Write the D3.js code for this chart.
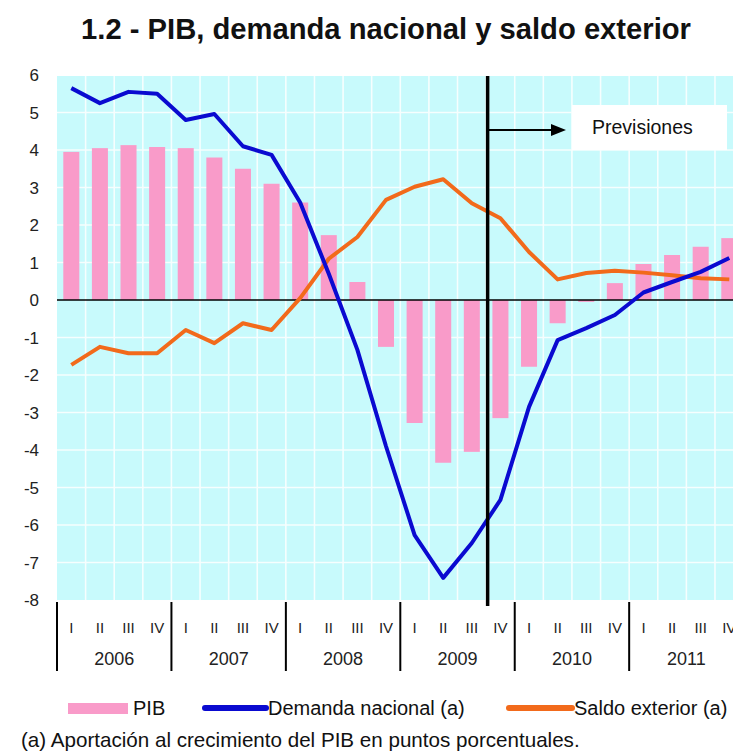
<!DOCTYPE html>
<html>
<head>
<meta charset="utf-8">
<script src="https://cdn.jsdelivr.net/npm/d3@7"></script>
<style>
  html, body { margin: 0; padding: 0; background: #fff; overflow: hidden; }
  svg { display: block; font-family: "Liberation Sans", Arial, sans-serif; }
</style>
</head>
<body>
<svg id="chart" width="733" height="756"></svg>
<script>
const years = ["2006", "2007", "2008", "2009", "2010", "2011"];
const quarterNames = ["I", "II", "III", "IV"];
const quarters = years.flatMap(y => quarterNames.map(q => y + " " + q));
const pib = [3.95, 4.05, 4.13, 4.08, 4.05, 3.8, 3.5, 3.1, 2.6, 1.73, 0.48, -1.25,
             -3.28, -4.34, -4.05, -3.15, -1.78, -0.62, -0.05, 0.45, 0.96, 1.2, 1.42, 1.65];
const demanda = [5.65, 5.25, 5.55, 5.5, 4.8, 4.96, 4.1, 3.87, 2.6, 0.7, -1.33, -3.9,
                 -6.27, -7.41, -6.48, -5.33, -2.85, -1.07, -0.75, -0.4, 0.2, 0.48, 0.75, 1.12];
const saldo = [-1.73, -1.25, -1.42, -1.42, -0.8, -1.15, -0.62, -0.8, 0.05, 1.1, 1.68, 2.67,
               3.02, 3.22, 2.58, 2.18, 1.28, 0.55, 0.72, 0.78, 0.73, 0.66, 0.58, 0.55];
const yTicks = [6, 5, 4, 3, 2, 1, 0, -1, -2, -3, -4, -5, -6, -7, -8];
const forecastStart = "2009 IV";
const title = "1.2 - PIB, demanda nacional y saldo exterior";
const forecastLabel = "Previsiones";
const legendLabels = ["PIB", "Demanda nacional (a)", "Saldo exterior (a)"];
const footnote = "(a) Aportación al crecimiento del PIB en puntos porcentuales.";

const colors = { bg: "#c8fafc", pib: "#f99bc9", demanda: "#0a0ad0", saldo: "#f26a1b" };

const svg = d3.select("#chart");
const W = 733;
const plot = { left: 57, right: 743.6, top: 76, bottom: 600 };

const x = d3.scaleBand().domain(quarters).range([plot.left, plot.right])
  .paddingInner(0.44).paddingOuter(0.22);
const step = x.step();
const cx = q => x(q) + x.bandwidth() / 2;
const qStart = q => cx(q) - step / 2;
const y = d3.scaleLinear().domain([-8, 6]).range([plot.bottom, 75]);

// title
svg.append("text").attr("x", 386).attr("y", 39).attr("text-anchor", "middle")
  .attr("font-size", 29.2).attr("font-weight", "bold").attr("fill", "#111").text(title);

// background
const clipW = Math.min(W, plot.right) - plot.left;
svg.append("rect").attr("x", plot.left).attr("y", plot.top)
  .attr("width", clipW).attr("height", plot.bottom - plot.top).attr("fill", colors.bg);

// gridlines
const grid = svg.append("g").attr("stroke", "#fff").attr("stroke-width", 1.6).attr("opacity", 0.85);
grid.selectAll("line.h").data(yTicks.filter(t => t !== 0 && t !== 6 && t !== -8)).join("line")
  .attr("x1", plot.left).attr("x2", W).attr("y1", d => y(d)).attr("y2", d => y(d));
grid.selectAll("line.v").data(quarters.slice(1)).join("line")
  .attr("x1", d => qStart(d)).attr("x2", d => qStart(d))
  .attr("y1", plot.top).attr("y2", plot.bottom);

// bars
svg.append("g").selectAll("rect").data(quarters).join("rect")
  .attr("x", d => x(d)).attr("width", x.bandwidth())
  .attr("y", (d, i) => y(Math.max(0, pib[i])))
  .attr("height", (d, i) => Math.abs(y(pib[i]) - y(0)))
  .attr("fill", colors.pib);

// zero line
svg.append("line").attr("x1", plot.left).attr("x2", W).attr("y1", y(0)).attr("y2", y(0))
  .attr("stroke", "#000").attr("stroke-width", 1.5);

// lines
const line = d3.line().x((d, i) => cx(quarters[i])).y(d => y(d));
svg.append("path").datum(saldo).attr("d", line).attr("fill", "none")
  .attr("stroke", colors.saldo).attr("stroke-width", 4).attr("stroke-linejoin", "round");
svg.append("path").datum(demanda).attr("d", line).attr("fill", "none")
  .attr("stroke", colors.demanda).attr("stroke-width", 4).attr("stroke-linejoin", "round");

// forecast divider
const fx = qStart(forecastStart) + 1.5;
svg.append("line").attr("x1", fx).attr("x2", fx).attr("y1", plot.top).attr("y2", 606)
  .attr("stroke", "#000").attr("stroke-width", 3.5);
const ay = 130;
svg.append("line").attr("x1", fx).attr("x2", 554).attr("y1", ay).attr("y2", ay)
  .attr("stroke", "#000").attr("stroke-width", 2);
svg.append("path").attr("d", `M566,${ay} L551,${ay - 6} L551,${ay + 6} Z`).attr("fill", "#000");
svg.append("rect").attr("x", 572).attr("y", 105).attr("width", 155).attr("height", 45).attr("fill", "#fff");
svg.append("text").attr("x", 592).attr("y", 134).attr("font-size", 19.5).attr("fill", "#111").text(forecastLabel);

// y tick labels
svg.append("g").selectAll("text").data(yTicks).join("text")
  .attr("x", 39).attr("y", d => y(d) + 6).attr("text-anchor", "end")
  .attr("font-size", 17).attr("fill", "#222").text(d => d);

// x axis labels
svg.append("g").selectAll("text").data(quarters).join("text")
  .attr("x", d => cx(d)).attr("y", 633).attr("text-anchor", "middle")
  .attr("font-size", 15).attr("fill", "#222").text(d => d.split(" ")[1]);
svg.append("g").selectAll("text").data(years).join("text")
  .attr("x", (d, i) => qStart(quarters[i * 4]) + 2 * step)
  .attr("y", 665).attr("text-anchor", "middle")
  .attr("font-size", 18).attr("fill", "#222").text(d => d);
svg.append("g").selectAll("line").data(years.map((d, i) => i * 4).concat([24])).join("line")
  .attr("x1", d => plot.left + d * step).attr("x2", d => plot.left + d * step)
  .attr("y1", 602).attr("y2", 671).attr("stroke", "#000").attr("stroke-width", 2);

// legend
const ly = 708;
const lfs = 20;
svg.append("rect").attr("x", 68).attr("y", ly - 5).attr("width", 60).attr("height", 11).attr("fill", colors.pib);
svg.append("text").attr("x", 133).attr("y", ly + 7).attr("font-size", lfs).attr("fill", "#111").text(legendLabels[0]);
svg.append("line").attr("x1", 205).attr("x2", 266).attr("y1", ly).attr("y2", ly)
  .attr("stroke", colors.demanda).attr("stroke-width", 6).attr("stroke-linecap", "round");
svg.append("text").attr("x", 268).attr("y", ly + 7).attr("font-size", lfs).attr("fill", "#111").text(legendLabels[1]);
svg.append("line").attr("x1", 509).attr("x2", 572).attr("y1", ly).attr("y2", ly)
  .attr("stroke", colors.saldo).attr("stroke-width", 6).attr("stroke-linecap", "round");
svg.append("text").attr("x", 574).attr("y", ly + 7).attr("font-size", lfs).attr("fill", "#111").text(legendLabels[2]);

// footnote
svg.append("text").attr("x", 21).attr("y", 747).attr("font-size", 20.6).attr("fill", "#111").text(footnote);
</script>
</body>
</html>
